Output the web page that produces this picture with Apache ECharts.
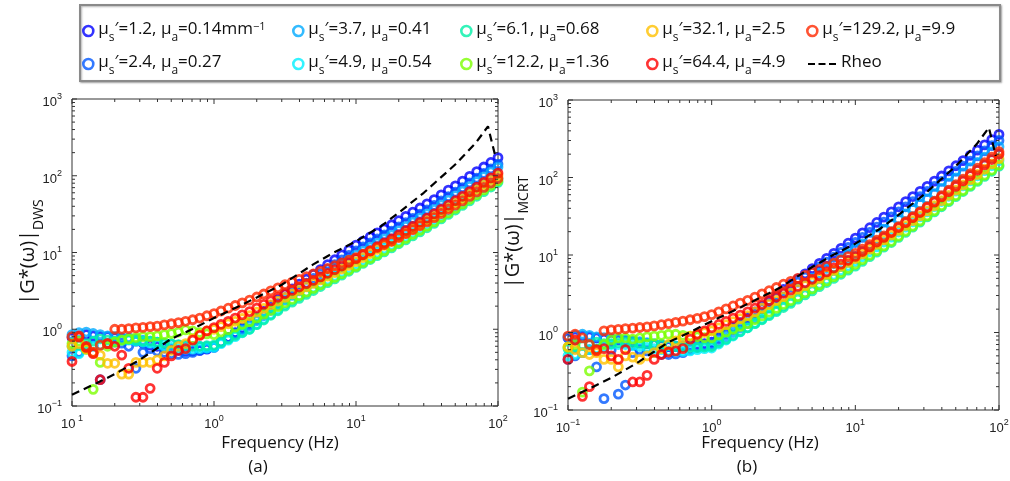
<!DOCTYPE html>
<html><head><meta charset="utf-8">
<script src="https://cdn.jsdelivr.net/npm/echarts@6/dist/echarts.min.js"></script>
<style>html,body{margin:0;padding:0;background:#fff}#c{width:1010px;height:481px}</style>
</head><body><div id="c"></div>
<script>
// ---------- data ----------
const freq = [0.1,0.112,0.126,0.141,0.158,0.178,0.2,0.224,0.251,0.282,0.316,0.355,0.398,0.447,0.501,0.562,0.631,0.708,0.794,0.891,1,1.12,1.26,1.41,1.58,1.78,2,2.24,2.51,2.82,3.16,3.55,3.98,4.47,5.01,5.62,6.31,7.08,7.94,8.91,10,11.2,12.6,14.1,15.8,17.8,20,22.4,25.1,28.2,31.6,35.5,39.8,44.7,50.1,56.2,63.1,70.8,79.4,89.1,100];

const seriesNames = ['ms1.2','ms2.4','ms3.7','ms4.9','ms6.1','ms12.2','ms32.1','ms64.4','ms129.2'];

// DWS panel (a)
const dws_1p2 = [0.78,0.82,0.85,0.82,0.8,0.8,0.78,0.76,0.74,0.7,0.66,0.62,0.6,0.57,0.55,0.53,0.52,0.52,0.53,0.55,0.58,0.67,0.78,0.9,1.04,1.2,1.43,1.71,2.04,2.43,2.9,3.36,3.88,4.49,5.2,6.0,6.95,8.05,9.3,10.8,12.5,14.1,16,18,20.4,23,26,29.5,33.5,38,43,49,56.5,65,74,85,98,113,130,149,172];
const dws_2p4 = [0.45,0.5,0.6,0.62,0.22,0.65,0.68,0.66,0.6,0.31,0.5,0.56,0.52,0.5,0.48,0.47,0.48,0.5,0.53,0.56,0.6,0.68,0.78,0.89,1.01,1.15,1.35,1.59,1.88,2.21,2.6,3.0,3.46,3.98,4.6,5.3,6.08,6.97,8.0,9.17,10.5,11.8,13.3,15,16.9,19,21.6,24.5,27.8,31.6,36,41,47,53.6,61.2,70,80.6,93,107,123,142];
const dws_3p7 = [0.85,0.9,0.92,0.88,0.85,0.82,0.8,0.78,0.78,0.75,0.72,0.7,0.68,0.66,0.64,0.62,0.6,0.6,0.6,0.6,0.6,0.68,0.76,0.86,0.97,1.1,1.29,1.5,1.76,2.05,2.4,2.76,3.17,3.64,4.18,4.8,5.48,6.25,7.13,8.14,9.3,10.5,11.8,13.3,15.1,17,19.3,21.9,24.9,28.2,32,36.6,41.9,48,55,63,72.8,84.2,97.3,112.5,130];
const dws_4p9 = [0.5,0.48,0.55,0.6,0.62,0.65,0.7,0.72,0.72,0.7,0.68,0.66,0.63,0.6,0.58,0.56,0.55,0.55,0.56,0.57,0.58,0.65,0.72,0.8,0.9,1.0,1.16,1.35,1.56,1.81,2.1,2.38,2.69,3.05,3.45,3.9,4.38,4.93,5.54,6.23,7,7.86,8.83,9.91,11.1,12.5,14.1,16,18,20.4,23,26.3,30,34.3,39.2,45,52,60,69.2,79.8,92];
const dws_6p1 = [0.6,0.62,0.65,0.7,0.75,0.72,0.7,0.72,0.74,0.72,0.7,0.7,0.68,0.66,0.65,0.63,0.62,0.6,0.6,0.61,0.62,0.68,0.75,0.83,0.91,1.0,1.15,1.32,1.52,1.74,2.0,2.25,2.53,2.85,3.2,3.6,4.04,4.53,5.08,5.7,6.4,7.2,8.1,9.1,10.2,11.5,13,14.6,16.5,18.6,21,24,27.4,31.3,35.8,41,47.1,54.1,62.2,71.4,82];
const dws_12p2 = [0.65,0.7,0.55,0.165,0.37,0.6,0.68,0.72,0.75,0.78,0.8,0.8,0.82,0.85,0.88,0.92,0.98,0.95,0.9,0.87,0.85,0.92,0.99,1.07,1.16,1.25,1.4,1.57,1.76,1.97,2.2,2.45,2.74,3.05,3.4,3.8,4.24,4.74,5.3,5.91,6.6,7.44,8.38,9.45,10.6,12,13.5,15.3,17.3,19.5,22,25.1,28.7,32.8,37.6,43,49.4,56.8,65.3,75,86];
const dws_32p1 = [0.6,0.65,0.55,0.5,0.46,0.36,0.36,0.26,0.26,0.37,0.37,0.37,0.4,0.45,0.53,0.6,0.65,0.75,0.85,0.95,1.0,1.08,1.18,1.27,1.38,1.5,1.67,1.87,2.09,2.33,2.6,2.89,3.21,3.56,3.96,4.4,4.91,5.47,6.1,6.8,7.6,8.6,9.7,11,12.4,14,15.8,17.9,20.3,23,26,29.6,33.8,38.5,43.9,50,57.4,66,75.8,87,100];
const dws_64p4 = [0.38,0.79,0.58,0.48,0.22,0.65,0.6,0.46,0.31,0.13,0.13,0.17,0.31,0.37,0.45,0.53,0.56,0.72,0.83,0.95,1.05,1.16,1.27,1.4,1.54,1.7,1.89,2.11,2.34,2.61,2.9,3.21,3.55,3.92,4.34,4.8,5.36,5.98,6.67,7.44,8.3,9.35,10.5,11.9,13.3,15,17,19.3,21.8,24.7,28,31.9,36.4,41.5,47.3,54,62,71.3,81.9,94,108];
const dws_129p2 = [0.8,0.82,0.6,0.5,0.62,0.65,1.0,1.0,1.02,1.04,1.06,1.08,1.1,1.14,1.18,1.22,1.27,1.33,1.4,1.5,1.6,1.73,1.88,2.04,2.21,2.4,2.63,2.88,3.16,3.47,3.8,4.12,4.47,4.84,5.25,5.7,6.19,6.72,7.3,7.92,8.6,9.49,10.5,11.6,12.7,14,15.7,17.6,19.8,22.3,25,28.4,32.2,36.6,41.5,47,53.8,61.5,70.4,80.5,92];

// MCRT panel (b)
const mcrt_1p2 = [0.85,0.88,0.9,0.88,0.85,0.82,0.8,0.8,0.78,0.76,0.74,0.72,0.7,0.68,0.66,0.66,0.67,0.68,0.7,0.72,0.75,0.87,1.0,1.16,1.34,1.55,1.84,2.17,2.57,3.04,3.6,4.2,4.9,5.72,6.68,7.8,9.06,10.5,12.2,14.2,16.5,19.3,22.5,26.3,30.8,36,41.9,48.8,56.8,66.1,77,89.7,104.5,121.7,141.8,165,192.9,225.5,263.6,308.2,360];
const mcrt_2p4 = [0.45,0.5,0.55,0.6,0.36,0.14,0.6,0.16,0.21,0.55,0.6,0.58,0.55,0.52,0.52,0.53,0.55,0.6,0.64,0.68,0.72,0.83,0.95,1.09,1.26,1.45,1.71,2.02,2.38,2.8,3.3,3.84,4.46,5.18,6.02,7,8.1,9.37,10.8,12.5,14.5,16.9,19.6,22.9,26.6,31,36,41.9,48.8,56.7,66,76.7,89.1,103.5,120.3,140,163,190,221,258,300];
const mcrt_3p7 = [0.88,0.92,0.95,0.92,0.88,0.86,0.84,0.82,0.8,0.78,0.76,0.74,0.72,0.7,0.68,0.67,0.66,0.66,0.66,0.67,0.68,0.77,0.88,1.0,1.14,1.3,1.52,1.77,2.06,2.4,2.8,3.24,3.75,4.34,5.02,5.8,6.71,7.76,8.98,10.4,12,13.9,16.1,18.6,21.6,25,29,33.8,39.2,45.6,53,61.9,72.3,84.4,98.5,115,134.3,156.9,183.2,214,250];
const mcrt_4p9 = [0.5,0.52,0.55,0.6,0.62,0.65,0.7,0.7,0.7,0.68,0.66,0.64,0.62,0.6,0.58,0.57,0.57,0.58,0.6,0.62,0.63,0.71,0.8,0.9,1.02,1.15,1.31,1.49,1.7,1.93,2.2,2.5,2.85,3.24,3.69,4.2,4.8,5.49,6.27,7.17,8.2,9.49,11,12.7,14.7,17,19.8,22.9,26.7,31,36,42,49,57.2,66.8,78,90.6,105.3,122.4,142.2,165];
const mcrt_6p1 = [0.62,0.65,0.68,0.7,0.75,0.72,0.72,0.74,0.75,0.74,0.72,0.71,0.7,0.69,0.68,0.66,0.65,0.64,0.64,0.65,0.66,0.74,0.82,0.92,1.03,1.15,1.3,1.46,1.65,1.86,2.1,2.38,2.69,3.05,3.45,3.9,4.41,4.99,5.64,6.38,7.2,8.28,9.52,10.9,12.6,14.5,16.9,19.6,22.9,26.6,31,36,41.9,48.8,56.7,66,76.7,89.1,103.5,120.3,140];
const mcrt_12p2 = [0.65,0.7,0.17,0.32,0.6,0.7,0.8,0.85,0.85,0.82,0.85,0.88,0.9,0.92,0.95,0.95,0.92,0.9,0.88,0.86,0.86,0.93,1.01,1.1,1.2,1.3,1.46,1.63,1.83,2.05,2.3,2.58,2.9,3.25,3.65,4.1,4.64,5.25,5.93,6.71,7.6,8.71,9.98,11.4,13.1,15,17.5,20.3,23.6,27.5,32,37.2,43.3,50.3,58.5,68,79.1,92.1,107.2,124.8,145];
const mcrt_32p1 = [0.65,0.6,0.55,0.52,0.55,0.45,0.45,0.36,0.5,0.48,0.45,0.5,0.55,0.62,0.7,0.78,0.85,0.9,0.95,1.0,1.05,1.15,1.26,1.38,1.51,1.65,1.85,2.07,2.31,2.59,2.9,3.23,3.61,4.02,4.48,5,5.63,6.33,7.12,8.01,9,10.3,11.9,13.7,15.7,18,20.8,24,27.7,32,37,43.2,50.4,58.8,68.6,80,93.5,109.3,127.8,149.4,175];
const mcrt_64p4 = [0.45,0.8,0.15,0.2,0.6,0.62,0.5,0.45,0.6,0.23,0.23,0.28,0.45,0.52,0.56,0.58,0.62,0.82,0.95,1.05,1.15,1.27,1.39,1.53,1.68,1.85,2.06,2.3,2.57,2.87,3.2,3.55,3.94,4.38,4.86,5.4,6.06,6.8,7.63,8.56,9.6,11.1,12.7,14.7,16.9,19.5,22.6,26.2,30.4,35.3,41,48,56.1,65.7,76.9,90,105.6,123.9,145.3,170.5,200];
const mcrt_129p2 = [0.9,0.95,0.85,0.7,0.58,1.05,1.08,1.1,1.12,1.14,1.16,1.18,1.22,1.26,1.3,1.35,1.4,1.46,1.52,1.6,1.7,1.85,2.02,2.2,2.39,2.6,2.86,3.15,3.46,3.81,4.2,4.58,5.0,5.46,5.96,6.5,7.15,7.87,8.65,9.52,10.5,11.9,13.6,15.5,17.6,20,23.2,26.9,31.2,36.2,42,49.4,58.2,68.5,80.6,95,111.8,131.6,154.9,182.6,215];

// Rheometer
const rheoFreq = [0.1,0.15,0.2,0.3,0.5,0.7,1,1.5,2,3,5,7,10,15,20,30,50,70,85,95];
const rheoG = [0.14,0.2,0.26,0.4,0.75,1.0,1.4,2.0,2.6,3.8,7,10,14,22,33,60,140,270,440,190];

const dwsData = [dws_1p2,dws_2p4,dws_3p7,dws_4p9,dws_6p1,dws_12p2,dws_32p1,dws_64p4,dws_129p2];
const mcrtData = [mcrt_1p2,mcrt_2p4,mcrt_3p7,mcrt_4p9,mcrt_6p1,mcrt_12p2,mcrt_32p1,mcrt_64p4,mcrt_129p2];
const colors = ['#0000ff','#0058ff','#00aaff','#00f0ff','#00f0a8','#7cff00','#ffc000','#ff0000','#ff2800'];

const legendLabels = [
  ['1.2','0.14mm', true],['2.4','0.27'],['3.7','0.41'],['4.9','0.54'],['6.1','0.68'],
  ['12.2','1.36'],['32.1','2.5'],['64.4','4.9'],['129.2','9.9']
];
const legendPos = [[87,32],[87,65],[297,32],[297,65],[465,32],[465,65],[651,32],[651,65],[811,32]];

// ---------- build ----------
const FONT = 'Open Sans';
function pair(xs, ys){ return xs.map((x,i)=>[x, ys[i]]); }

function supLabel(noMinus){
  return function(v){
    const e = Math.round(Math.log10(v));
    let es = e < 0 ? (noMinus ? ' ' + (-e) : '\u2212' + (-e)) : String(e);
    return '{b|10}{e|' + es + '}';
  };
}
const labelRich = {
  b:{fontSize:13, fontFamily:'Liberation Sans', color:'#222', lineHeight:14, verticalAlign:'top', padding:[4,0,0,0]},
  e:{fontSize:9, fontFamily:'Liberation Sans', color:'#222', lineHeight:10, verticalAlign:'top'}
};

function minorList(lo, hi){
  const out = [];
  for (let d = lo; d < hi*0.999; d *= 10){
    out.push([d,1]);
    for (let m = 2; m <= 9; m++) out.push([d*m,0]);
  }
  out.push([hi,1]);
  return out;
}
const xTickVals = minorList(0.1,100);
const yTickVals = minorList(0.1,1000);

function tickSeries(gi){
  return [{
    type:'custom', xAxisIndex:gi, yAxisIndex:gi, silent:true, z:5,
    data: xTickVals.map(t=>[t[0],1,t[1]]),
    renderItem:function(p, api){
      const v = api.value(0), major = api.value(2);
      const L = major ? 5 : 3;
      const a = api.coord([v,0.1]), b = api.coord([v,1000]);
      const st = {stroke:'#333', lineWidth:1};
      return {type:'group', children:[
        {type:'line', shape:{x1:a[0],y1:a[1],x2:a[0],y2:a[1]-L}, style:st},
        {type:'line', shape:{x1:b[0],y1:b[1],x2:b[0],y2:b[1]+L}, style:st}
      ]};
    }
  },{
    type:'custom', xAxisIndex:gi, yAxisIndex:gi, silent:true, z:5,
    data: yTickVals.map(t=>[1,t[0],t[1]]),
    renderItem:function(p, api){
      const v = api.value(1), major = api.value(2);
      const L = major ? 5 : 3;
      const a = api.coord([0.1,v]), b = api.coord([100,v]);
      const st = {stroke:'#333', lineWidth:1};
      return {type:'group', children:[
        {type:'line', shape:{x1:a[0],y1:a[1],x2:a[0]+L,y2:a[1]}, style:st},
        {type:'line', shape:{x1:b[0],y1:b[1],x2:b[0]-L,y2:b[1]}, style:st}
      ]};
    }
  }];
}

const series = [];
[dwsData, mcrtData].forEach((set, gi)=>{
  set.forEach((vals, i)=>{
    series.push({
      type:'scatter', name:seriesNames[i], xAxisIndex:gi, yAxisIndex:gi,
      data: pair(freq, vals), symbol:'circle', symbolSize:8, clip:false,
      itemStyle:{color:'rgba(0,0,0,0)', borderColor:colors[i], borderWidth:2.8},
      emphasis:{disabled:true}, z:2+i*0.01
    });
  });
  series.push({
    type:'line', name:'Rheo', xAxisIndex:gi, yAxisIndex:gi,
    data: pair(rheoFreq, rheoG), showSymbol:false, symbol:'none', clip:false,
    lineStyle:{color:'#000', width:2.2, type:[8,5]}, itemStyle:{color:'#000'},
    emphasis:{disabled:true}, z:3
  });
  tickSeries(gi).forEach(s=>series.push(s));
});

const legRich = {
  t:{fontSize:17, fontFamily:FONT, color:'#111', lineHeight:20, verticalAlign:'top'},
  s:{fontSize:12, fontFamily:FONT, color:'#111', lineHeight:13, verticalAlign:'top', padding:[11,0,0,0]},
  p:{fontSize:11, fontFamily:FONT, color:'#111', lineHeight:11, verticalAlign:'top'}
};
function legText(i){
  const L = legendLabels[i];
  let s = '{t|\u03bc}{s|s}{t|\u2032=' + L[0] + ', \u03bc}{s|a}{t|=' + L[1] + '}';
  if (L[2]) s += '{p|\u22121}';
  return s;
}
const legends = seriesNames.map((n,i)=>({
  left: legendPos[i][0]-5, top: legendPos[i][1]-11, padding:0, selectedMode:false,
  itemWidth:10, itemHeight:10,
  data:[{name:n, icon:'circle', itemStyle:{color:'rgba(0,0,0,0)', borderColor:colors[i], borderWidth:2.6}}],
  formatter: ()=>legText(i),
  textStyle:{rich:legRich}
}));
legends.push({
  left: 808, top: 65-11, padding:0, selectedMode:false, itemWidth:28, itemHeight:3,
  data:[{name:'Rheo', icon:'path://M0,0H7V2H0Z M10.5,0H17.5V2H10.5Z M21,0H28V2H21Z', itemStyle:{color:'#000'}}],
  formatter: ()=>'{t|Rheo}', textStyle:{rich:legRich}
});

function mkX(gi, noMinus){
  return {type:'log', logBase:10, gridIndex:gi, min:0.1, max:100,
    axisLine:{show:false}, axisTick:{show:false}, splitLine:{show:false},
    axisLabel:{formatter:supLabel(noMinus), rich:labelRich, margin:8, showMinLabel:true, showMaxLabel:true, hideOverlap:false}};
}
function mkY(gi){
  return {type:'log', logBase:10, gridIndex:gi, min:0.1, max:1000,
    axisLine:{show:false}, axisTick:{show:false}, splitLine:{show:false},
    axisLabel:{formatter:supLabel(false), rich:labelRich, margin:10, showMinLabel:true, showMaxLabel:true, hideOverlap:false}};
}

const ytRich = {
  m:{fontSize:20, fontFamily:FONT, fill:'#111', lineHeight:24, verticalAlign:'top'},
  s:{fontSize:14, fontFamily:FONT, fill:'#111', lineHeight:16, verticalAlign:'top', padding:[14,0,0,0]}
};

const option = {
  animation:false,
  backgroundColor:'#fff',
  grid:[
    {left:72, top:99, width:426, height:307, show:true, borderColor:'#333', borderWidth:1, backgroundColor:'rgba(0,0,0,0)', outerBoundsMode:'none'},
    {left:568, top:100, width:431, height:310, show:true, borderColor:'#333', borderWidth:1, backgroundColor:'rgba(0,0,0,0)', outerBoundsMode:'none'}
  ],
  xAxis:[mkX(0,true), mkX(1,false)],
  yAxis:[mkY(0), mkY(1)],
  legend: legends,
  series: series,
  graphic:[
    {type:'rect', shape:{x:80, y:5, width:920, height:76}, style:{fill:'#fff', stroke:'#8a8a8a', lineWidth:2, shadowBlur:2, shadowOffsetX:1, shadowOffsetY:1, shadowColor:'rgba(0,0,0,0.3)'}, z:-10},
    {type:'text', x:280, y:443, style:{text:'Frequency (Hz)', font:'17px "Open Sans"', fill:'#111', align:'center', verticalAlign:'middle'}},
    {type:'text', x:258, y:467, style:{text:'(a)', font:'17px "Open Sans"', fill:'#111', align:'center', verticalAlign:'middle'}},
    {type:'text', x:760, y:443, style:{text:'Frequency (Hz)', font:'17px "Open Sans"', fill:'#111', align:'center', verticalAlign:'middle'}},
    {type:'text', x:747, y:467, style:{text:'(b)', font:'17px "Open Sans"', fill:'#111', align:'center', verticalAlign:'middle'}},
    {type:'text', x:30, y:252, rotation:Math.PI/2, style:{text:'{m||G*(\u03c9)|}{s|DWS}', rich:ytRich, align:'center', verticalAlign:'middle'}},
    {type:'text', x:515, y:232, rotation:Math.PI/2, style:{text:'{m||G*(\u03c9)|}{s|MCRT}', rich:ytRich, align:'center', verticalAlign:'middle'}}
  ]
};

const chart = echarts.init(document.getElementById('c'), null, {renderer:'canvas'});
chart.setOption(option);
</script>
</body></html>
